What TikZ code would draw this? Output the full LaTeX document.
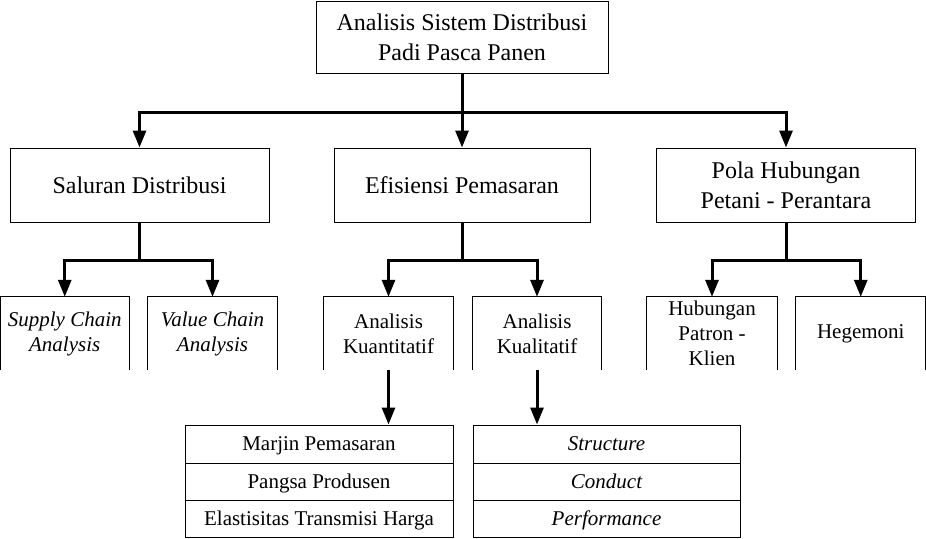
\documentclass[tikz,border=0pt]{standalone}
\usepackage{fontspec}
\setmainfont{Liberation Serif}
\usetikzlibrary{arrows.meta}
\tikzset{
  big/.style={font=\fontsize{24}{30}\selectfont, align=center, inner sep=0pt},
  small/.style={font=\fontsize{21}{25}\selectfont, align=center, inner sep=0pt},
  cell/.style={small, draw, line width=1pt, text height=17pt, text depth=4pt},
  boxed/.style={draw, line width=1pt},
  conn/.style={line width=3pt},
  arr/.style={line width=3pt, -{Triangle[width=13pt,length=17pt]}},
}
\begin{document}
\begin{tikzpicture}[x=1pt,y=-1pt]
\useasboundingbox (0,0) rectangle (926,538);
% top
\node[big,boxed,minimum width=292pt,minimum height=72pt] (top) at (462,37) {Analisis Sistem Distribusi\\Padi Pasca Panen};
% level 2
\node[big,boxed,minimum width=259pt,minimum height=74pt] (sd) at (139.5,185) {Saluran Distribusi};
\node[big,boxed,minimum width=256pt,minimum height=74pt] (ef) at (462,185) {Efisiensi Pemasaran};
\node[big,boxed,minimum width=259pt,minimum height=74pt] (ph) at (786,185) {Pola Hubungan\\Petani - Perantara};
% level 3 (open bottom)
\node[small,minimum width=128.5pt,minimum height=73pt] (sc) at (64.75,333.5) {\itshape Supply Chain\\\itshape Analysis};
\node[small,minimum width=129pt,minimum height=73pt] (vc) at (212.5,333.5) {\itshape Value Chain\\\itshape Analysis};
\node[small,minimum width=129pt,minimum height=73pt] (kn) at (388.5,333.5) {Analisis\\Kuantitatif};
\node[small,minimum width=129pt,minimum height=73pt] (kl) at (537,333.5) {Analisis\\Kualitatif};
\node[small,minimum width=130pt,minimum height=73pt] (hp) at (712,333.5) {Hubungan\\Patron -\\Klien};
\node[small,minimum width=129.5pt,minimum height=73pt] (hg) at (860.75,333.5) {Hegemoni};
\foreach \n in {sc,vc,kn,kl,hp,hg}{
  \draw[line width=1pt] (\n.south west) -- (\n.north west) -- (\n.north east) -- (\n.south east);
}
% tables
\node[cell,minimum width=268pt,minimum height=38pt] (m1) at (319,444) {Marjin Pemasaran};
\node[cell,minimum width=268pt,minimum height=37pt] (m2) at (319,481.5) {Pangsa Produsen};
\node[cell,minimum width=268pt,minimum height=37pt] (m3) at (319,518.5) {Elastisitas Transmisi Harga};
\node[cell,minimum width=267pt,minimum height=38pt] (s1) at (606.5,444) {\itshape Structure};
\node[cell,minimum width=267pt,minimum height=37pt] (s2) at (606.5,481.5) {\itshape Conduct};
\node[cell,minimum width=267pt,minimum height=37pt] (s3) at (606.5,518.5) {\itshape Performance};
% junctions
\coordinate (j1) at (462,112);
\coordinate (j2) at (139.5,260);
\coordinate (j3) at (462,260);
\coordinate (j4) at (786,260);
% connectors
\draw[conn] (top.south) -- (j1);
\draw[arr] (j1) -| (sd.north);
\draw[arr] (j1) -- (ef.north);
\draw[arr] (j1) -| (ph.north);
\draw[conn] (sd.south) -- (j2);
\draw[arr] (j2) -| (sc.north);
\draw[arr] (j2) -| (vc.north);
\draw[conn] (ef.south) -- (j3);
\draw[arr] (j3) -| (kn.north);
\draw[arr] (j3) -| (kl.north);
\draw[conn] (ph.south) -- (j4);
\draw[arr] (j4) -| (hp.north);
\draw[arr] (j4) -| (hg.north);
\draw[arr] (kn.south) -- (kn.south |- m1.north);
\draw[arr] (kl.south) -- (kl.south |- s1.north);
\end{tikzpicture}
\end{document}
